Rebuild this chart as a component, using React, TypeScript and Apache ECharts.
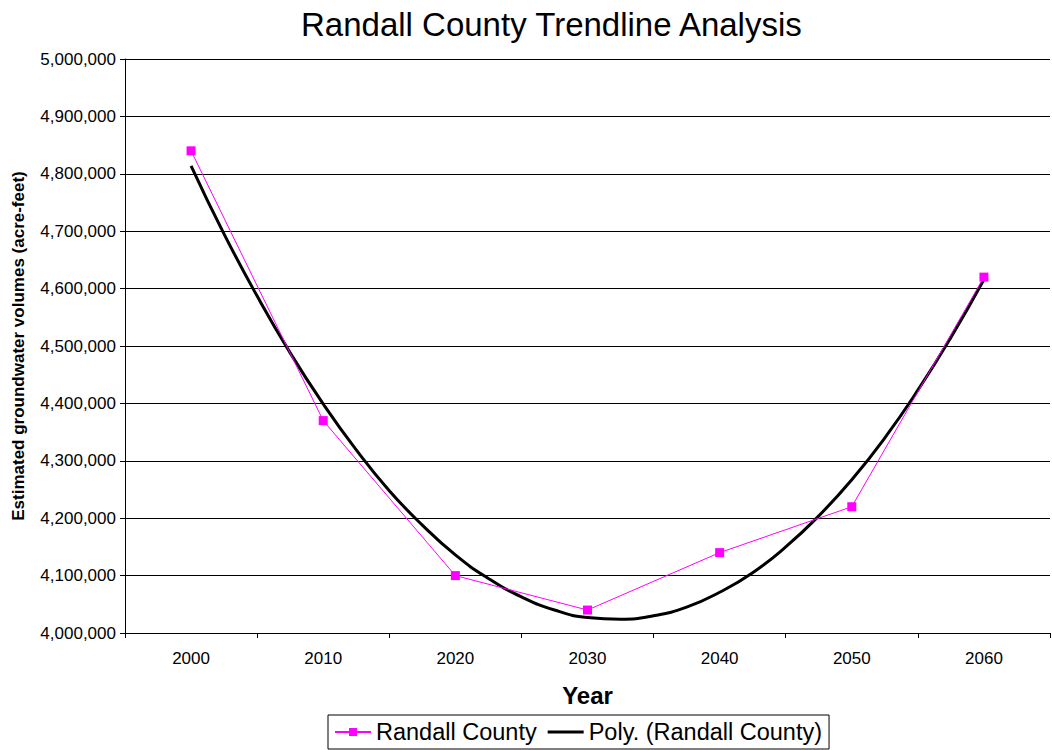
import React, { useEffect, useRef } from "react";
import * as echarts from "echarts";

const years = ["2000", "2010", "2020", "2030", "2040", "2050", "2060"];
const randallCounty = [4840000, 4370000, 4100000, 4040000, 4140000, 4220000, 4620000];
// Polynomial trendline at 2.5-year steps
const trendYears = [
  2000, 2002.5, 2005, 2007.5, 2010, 2012.5, 2015, 2017.5, 2020, 2022.5, 2025, 2027.5, 2030,
  2032.5, 2035, 2037.5, 2040, 2042.5, 2045, 2047.5, 2050, 2052.5, 2055, 2057.5, 2060,
];
const trendValues = [
  4814000, 4695000, 4587000, 4488000, 4399000, 4319000, 4248000, 4188000, 4136000, 4095000, 4063000, 4040000, 4027000,
  4024000, 4030000, 4045000, 4071000, 4105000, 4150000, 4204000, 4267000, 4340000, 4423000, 4515000, 4616000,
];

const FONT = "'Liberation Sans', Arial, sans-serif";

export default function App() {
  const ref = useRef<HTMLDivElement>(null);
  useEffect(() => {
    document.body.style.margin = "0";
    if (!ref.current) return;
    const chart = echarts.init(ref.current, null, { renderer: "svg" });
    chart.setOption({
      animation: false,
      backgroundColor: "#ffffff",
      textStyle: { fontFamily: FONT },
      title: {
        text: "Randall County Trendline Analysis",
        left: 296,
        top: 3,
        textStyle: { fontFamily: FONT, fontSize: 33, fontWeight: "normal", color: "#000" },
      },
      grid: { left: 125, top: 59, right: 2, bottom: 117 },
      legend: {
        bottom: 1,
        left: 328,
        data: [
          { name: "Randall County" },
          { name: "Poly. (Randall County)", icon: "path://M0,0 M36,10 M0,3.5 H36 V6.5 H0 Z" },
        ],
        borderColor: "#000",
        borderWidth: 1,
        padding: [5, 7, 5, 6],
        itemGap: 11,
        itemWidth: 36,
        itemHeight: 10,
        textStyle: { fontFamily: FONT, fontSize: 23.5, color: "#000" },
      },
      xAxis: [
        {
          type: "category",
          data: years,
          boundaryGap: true,
          name: "Year",
          nameLocation: "middle",
          nameGap: 50,
          nameTextStyle: { fontFamily: FONT, fontSize: 24, fontWeight: "bold", color: "#000" },
          axisLine: { lineStyle: { color: "#000", width: 1 } },
          axisTick: { show: true, length: 5, lineStyle: { color: "#000" } },
          axisLabel: { margin: 17, fontFamily: FONT, fontSize: 17, color: "#000" },
          splitLine: { show: false },
        },
        {
          type: "value",
          min: 1995,
          max: 2065,
          show: false,
          position: "bottom",
        },
      ],
      yAxis: {
        type: "value",
        min: 4000000,
        max: 5000000,
        interval: 100000,
        name: "Estimated groundwater volumes (acre-feet)",
        nameLocation: "middle",
        nameGap: 98,
        nameTextStyle: { fontFamily: FONT, fontSize: 17, fontWeight: "bold", color: "#000" },
        axisLine: { show: true, lineStyle: { color: "#000", width: 1 } },
        axisTick: { show: true, length: 5, lineStyle: { color: "#000" } },
        axisLabel: {
          margin: 9,
          fontFamily: FONT,
          fontSize: 17,
          color: "#000",
          formatter: (v: number) => v.toLocaleString("en-US"),
        },
        splitLine: { show: true, lineStyle: { color: "#000", width: 1 } },
      },
      series: [
        {
          name: "Randall County",
          type: "line",
          xAxisIndex: 0,
          data: randallCounty,
          symbol: "rect",
          symbolSize: 9,
          lineStyle: { color: "#FF00FF", width: 1 },
          itemStyle: { color: "#FF00FF" },
          z: 3,
        },
        {
          name: "Poly. (Randall County)",
          type: "line",
          xAxisIndex: 1,
          data: trendYears.map((y, i) => [y, trendValues[i]]),
          smooth: true,
          symbol: "none",
          lineStyle: { color: "#000", width: 3 },
          itemStyle: { color: "#000" },
          z: 2,
        },
      ],
    });
    return () => chart.dispose();
  }, []);
  return <div ref={ref} style={{ width: 1052, height: 750 }} />;
}
